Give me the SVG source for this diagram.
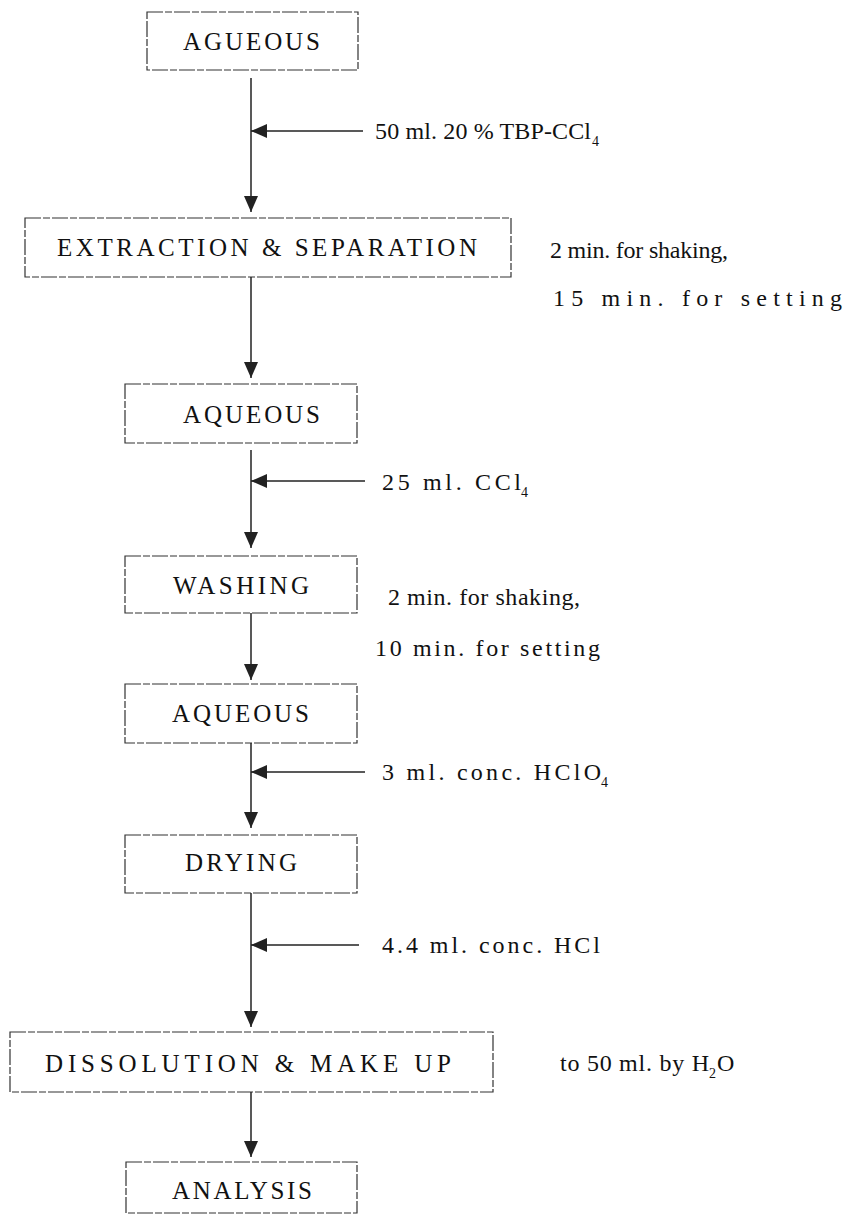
<svg xmlns="http://www.w3.org/2000/svg" width="851" height="1215" viewBox="0 0 851 1215">
<defs>
<marker id="ah" viewBox="0 0 16 14" refX="16" refY="7" markerWidth="16" markerHeight="14" markerUnits="userSpaceOnUse" orient="auto">
<path d="M0,0 L16,7 L0,14 z" fill="#222"/>
</marker>
<style>
.box{fill:none;stroke:#333;stroke-width:1.2;stroke-dasharray:16 2 7 2}
.lbl{font-family:"Liberation Serif","Times New Roman",serif;font-size:25px;fill:#111}
.side{font-family:"Liberation Serif","Times New Roman",serif;font-size:24px;fill:#111}
.sub{font-family:"Liberation Serif","Times New Roman",serif;font-size:14px;fill:#111}
.ln{stroke:#222;stroke-width:1.5;fill:none}
</style>
</defs>
<rect width="851" height="1215" fill="#fff"/>
<g id="n1"><rect class="box" x="147" y="12" width="211" height="58"/><text class="lbl" x="183" y="50" textLength="137" lengthAdjust="spacing">AGUEOUS</text></g>
<g id="n2"><rect class="box" x="25" y="218" width="486" height="59"/><text class="lbl" x="57" y="256" textLength="420" lengthAdjust="spacing">EXTRACTION  &amp; SEPARATION</text></g>
<g id="n3"><rect class="box" x="125" y="384" width="232" height="59"/><text class="lbl" x="183" y="423" textLength="137" lengthAdjust="spacing">AQUEOUS</text></g>
<g id="n4"><rect class="box" x="125" y="556" width="232" height="57"/><text class="lbl" x="173" y="594" textLength="136" lengthAdjust="spacing">WASHING</text></g>
<g id="n5"><rect class="box" x="125" y="684" width="232" height="59"/><text class="lbl" x="172" y="722" textLength="137" lengthAdjust="spacing">AQUEOUS</text></g>
<g id="n6"><rect class="box" x="125" y="835" width="232" height="58"/><text class="lbl" x="185" y="871" textLength="112" lengthAdjust="spacing">DRYING</text></g>
<g id="n7"><rect class="box" x="10" y="1032" width="483" height="60"/><text class="lbl" x="45" y="1072" textLength="406" lengthAdjust="spacing">DISSOLUTION &amp; MAKE UP</text></g>
<g id="n8"><rect class="box" x="126" y="1162" width="231" height="51"/><text class="lbl" x="172" y="1199" textLength="140" lengthAdjust="spacing">ANALYSIS</text></g>
<g id="connectors">
<line class="ln" x1="251" y1="78" x2="251" y2="212" marker-end="url(#ah)"/>
<line class="ln" x1="363" y1="131" x2="251" y2="131" marker-end="url(#ah)"/>
<line class="ln" x1="251" y1="277" x2="251" y2="378" marker-end="url(#ah)"/>
<line class="ln" x1="251" y1="450" x2="251" y2="548" marker-end="url(#ah)"/>
<line class="ln" x1="365" y1="481" x2="251" y2="481" marker-end="url(#ah)"/>
<line class="ln" x1="251" y1="613" x2="251" y2="680" marker-end="url(#ah)"/>
<line class="ln" x1="251" y1="743" x2="251" y2="828" marker-end="url(#ah)"/>
<line class="ln" x1="365" y1="772" x2="251" y2="772" marker-end="url(#ah)"/>
<line class="ln" x1="251" y1="893" x2="251" y2="1027" marker-end="url(#ah)"/>
<line class="ln" x1="359" y1="945" x2="251" y2="945" marker-end="url(#ah)"/>
<line class="ln" x1="251" y1="1092" x2="251" y2="1157" marker-end="url(#ah)"/>
</g>
<g id="labels">
<text class="side" x="375" y="139" textLength="216" lengthAdjust="spacing">50 ml.  20 %  TBP-CCl</text><text class="sub" x="592" y="146">4</text>
<text class="side" x="550" y="258" textLength="178" lengthAdjust="spacing">2 min. for shaking,</text>
<text class="side" x="553" y="306" textLength="289" lengthAdjust="spacing">15  min.  for  setting</text>
<text class="side" x="382" y="490" textLength="139" lengthAdjust="spacing">25 ml. CCl</text><text class="sub" x="521" y="497">4</text>
<text class="side" x="388" y="605" textLength="192" lengthAdjust="spacing">2 min. for shaking,</text>
<text class="side" x="375" y="656" textLength="225" lengthAdjust="spacing">10 min. for setting</text>
<text class="side" x="382" y="780" textLength="219" lengthAdjust="spacing">3 ml. conc. HClO</text><text class="sub" x="601" y="787">4</text>
<text class="side" x="382" y="953" textLength="218" lengthAdjust="spacing">4.4 ml. conc. HCl</text>
<text class="side" x="560" y="1071" textLength="149" lengthAdjust="spacing">to 50 ml. by H</text><text class="sub" x="709" y="1078">2</text><text class="side" x="717" y="1071">O</text>
</g>
</svg>
